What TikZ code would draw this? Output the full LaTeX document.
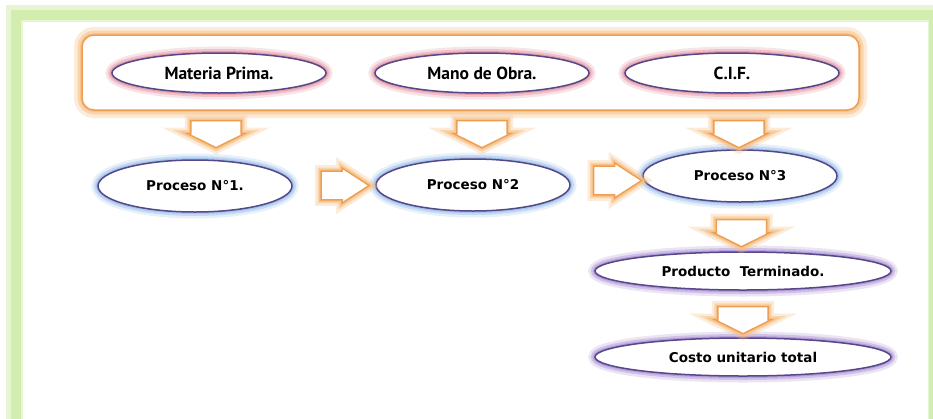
\documentclass[tikz,border=0pt]{standalone}
\usepackage{fontspec}
\setmainfont{DejaVu Sans}
\newfontfamily\topfont{PT Sans}
\usetikzlibrary{shapes.geometric,shapes.arrows,calc}

\definecolor{framegreen}{HTML}{D3EDAE}
\definecolor{frameglow}{HTML}{E6F5D4}
\definecolor{boxorange}{HTML}{EE9E52}
\definecolor{orangeglow}{HTML}{F8C084}
\definecolor{rimpurple}{HTML}{554888}
\definecolor{glowpink}{HTML}{E597A6}
\definecolor{glowblue}{HTML}{9DC0EC}
\definecolor{glowviolet}{HTML}{B096D8}

\tikzset{
  oval/.style={ellipse, draw=rimpurple, line width=1.5pt, fill=white, inner sep=0pt},
  costoval/.style={oval, minimum width=214pt, minimum height=40pt,
    font=\topfont\bfseries\fontsize{17.5}{19}\selectfont,
    preaction={draw=glowpink, line width=13pt, opacity=0.25},
    preaction={draw=glowpink, line width=8pt, opacity=0.45},
    preaction={draw=glowpink, line width=4pt, opacity=0.8}},
  procoval/.style={oval, minimum width=194pt, minimum height=52pt,
    font=\bfseries\fontsize{13.5}{15}\selectfont,
    preaction={draw=glowblue, line width=13pt, opacity=0.25},
    preaction={draw=glowblue, line width=8pt, opacity=0.45},
    preaction={draw=glowblue, line width=4pt, opacity=0.8}},
  endoval/.style={oval, minimum width=296pt, minimum height=38pt,
    font=\bfseries\fontsize{13.5}{15}\selectfont,
    preaction={draw=glowviolet, line width=13pt, opacity=0.25},
    preaction={draw=glowviolet, line width=8pt, opacity=0.45},
    preaction={draw=glowviolet, line width=4pt, opacity=0.8}},
  blockarrow/.style={single arrow, draw=boxorange, fill=white, line width=1.4pt,
    inner xsep=0pt, single arrow head extend=2pt,
    preaction={draw=orangeglow, line width=12pt, opacity=0.3},
    preaction={draw=orangeglow, line width=7pt, opacity=0.5},
    preaction={draw=orangeglow, line width=4pt, opacity=0.8}},
  downarrow/.style={blockarrow, rotate=-90, minimum height=27pt,
    minimum width=57pt, inner ysep=14pt, single arrow tip angle=127},
  rightarrow/.style={blockarrow, minimum height=48pt,
    minimum width=35pt, inner ysep=8.5pt, single arrow tip angle=66}
}

\begin{document}
\begin{tikzpicture}[x=1pt, y=-1pt]
  \useasboundingbox (0,0) rectangle (933,418);
  \fill[white] (0,0) rectangle (933,418);

  % green frame
  \draw[frameglow, line width=20pt] (16,15) rectangle (934,450);
  \draw[framegreen, line width=10pt] (16,15) rectangle (934,450);
  \fill[white] (23,22) rectangle (928,450);

  % box of cost elements
  \draw[orangeglow, line width=16pt, opacity=0.3, rounded corners=12pt] (82,35) rectangle (859,110);
  \draw[orangeglow, line width=9pt, opacity=0.5, rounded corners=12pt] (82,35) rectangle (859,110);
  \draw[orangeglow, line width=4pt, opacity=0.8, rounded corners=12pt] (82,35) rectangle (859,110);
  \draw[boxorange, line width=1.5pt, fill=white, rounded corners=12pt] (82,35) rectangle (859,110);

  \node[costoval] (mp)  at (219,73) {Materia Prima.};
  \node[costoval] (mo)  at (482,73) {Mano de Obra.};
  \node[costoval] (cif) at (732,73) {C.I.F.};

  % processes
  \node[procoval] (p1) at (195,186) {Proceso N°1.};
  \node[procoval] (p2) at (473,185) {Proceso N°2};
  \node[procoval] (p3) at (740,176) {Proceso N°3};

  \node[endoval] (pt) at (743,271) {Producto~~Terminado.};
  \node[endoval] (cu) at (743,357) {Costo unitario total};

  % block arrows
  \node[downarrow] (d1) at (216,128) {};
  \node[downarrow] (d2) at (482,128) {};
  \node[downarrow] (d3) at (739,128) {};
  \node[rightarrow] (r1) at ($(p1.east)!0.5!(p2.west)$) {};
  \node[rightarrow] (r2) at ($(p2.east)!0.5!(p3.west)$) {};
  \node[downarrow] (d4) at ($(p3.south)!0.5!(pt.north)$) {};
  \node[downarrow] (d5) at ($(pt.south)!0.5!(cu.north)$) {};
\end{tikzpicture}
\end{document}
